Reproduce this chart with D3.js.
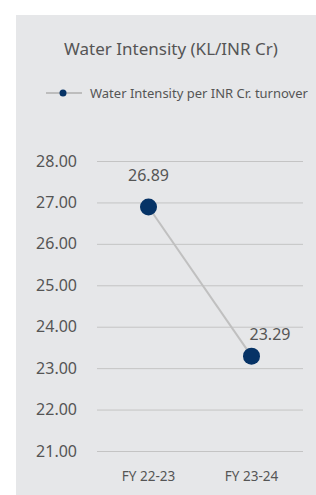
<!DOCTYPE html>
<html>
<head>
<meta charset="utf-8">
<script src="https://cdn.jsdelivr.net/npm/d3@7"></script>
<style>
  body { margin: 0; background: #fff; }
  svg { display: block; font-family: "Noto Sans", sans-serif; }
</style>
</head>
<body>
<div id="chart"></div>
<script>
const categories = ['FY 22-23', 'FY 23-24'];
const values = [26.89, 23.29];
const yTicks = [21, 22, 23, 24, 25, 26, 27, 28];
const title = 'Water Intensity (KL/INR Cr)';
const seriesName = 'Water Intensity per INR Cr. turnover';

const width = 316;
const height = 495;
const font = '"Noto Sans", sans-serif';

const svg = d3.select('#chart')
  .append('svg')
  .attr('width', width)
  .attr('height', height);

// panel background
svg.append('rect')
  .attr('x', 16)
  .attr('y', 15)
  .attr('width', width - 16)
  .attr('height', height - 15)
  .attr('fill', '#e6e7e9');

svg.append('text')
  .attr('x', 171)
  .attr('y', 55)
  .attr('text-anchor', 'middle')
  .attr('font-size', 17)
  .attr('fill', '#555')
  .text(title);

// legend
const legend = svg.append('g');
legend.append('line')
  .attr('x1', 46).attr('x2', 82)
  .attr('y1', 93).attr('y2', 93)
  .attr('stroke', '#bdbdbd')
  .attr('stroke-width', 2);
legend.append('circle')
  .attr('cx', 63).attr('cy', 93).attr('r', 3.5)
  .attr('fill', '#063366');
legend.append('text')
  .attr('x', 90).attr('y', 98)
  .attr('font-size', 13)
  .attr('fill', '#555')
  .text(seriesName);

const x = d3.scaleBand()
  .domain(categories)
  .range([97, 303]);

const y = d3.scaleLinear()
  .domain([21, 28])
  .range([451, 161]);

// gridlines + y labels
svg.append('g')
  .attr('transform', 'translate(97,0)')
  .call(d3.axisLeft(y).tickValues(yTicks).tickFormat(d3.format('.2f')).tickSize(0).tickPadding(20))
  .call((g) => g.select('.domain').remove())
  .call((g) => g.selectAll('.tick text')
    .attr('font-size', 16)
    .attr('font-family', font)
    .attr('fill', '#555'))
  .call((g) => g.selectAll('.tick line').clone()
    .attr('x2', 206)
    .attr('stroke', '#c4c4c4')
    .attr('stroke-width', 1));

// x labels
svg.append('g')
  .attr('transform', 'translate(0,451)')
  .call(d3.axisBottom(x).tickSize(0).tickPadding(20))
  .call((g) => g.select('.domain').remove())
  .call((g) => g.selectAll('.tick text')
    .attr('font-size', 13.5)
    .attr('font-family', font)
    .attr('fill', '#555'));

const cx = (d, i) => x(categories[i]) + x.bandwidth() / 2;

const line = d3.line()
  .x((d, i) => cx(d, i))
  .y((d) => y(d));

svg.append('path')
  .datum(values)
  .attr('d', line)
  .attr('fill', 'none')
  .attr('stroke', '#c0c0c0')
  .attr('stroke-width', 2);

svg.selectAll('.pt')
  .data(values)
  .enter()
  .append('circle')
  .attr('class', 'pt')
  .attr('cx', cx)
  .attr('cy', (d) => y(d))
  .attr('r', 8.5)
  .attr('fill', '#063366');

// value labels: first above the point, second above-right
const labelDx = [0, 18.5];
const labelDy = [-26, -16];
svg.selectAll('.lbl')
  .data(values)
  .enter()
  .append('text')
  .attr('class', 'lbl')
  .attr('x', (d, i) => cx(d, i) + labelDx[i])
  .attr('y', (d, i) => y(d) + labelDy[i])
  .attr('text-anchor', 'middle')
  .attr('font-size', 16)
  .attr('fill', '#555')
  .text((d) => d.toFixed(2));
</script>
</body>
</html>
